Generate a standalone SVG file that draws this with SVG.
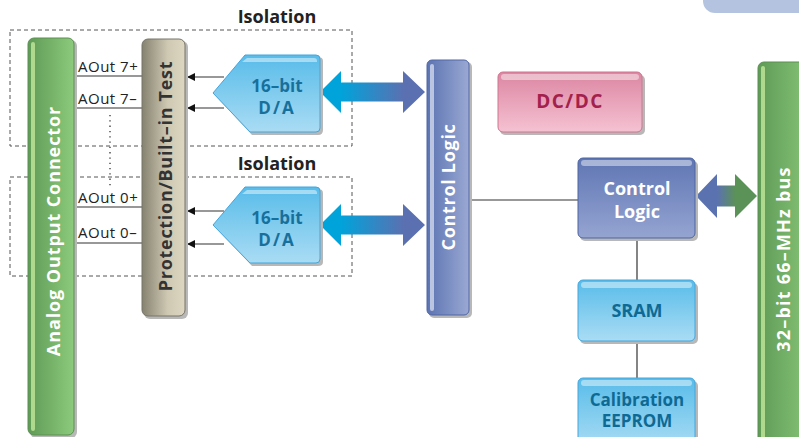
<svg xmlns="http://www.w3.org/2000/svg" width="799" height="437" viewBox="0 0 799 437">
<defs>
<linearGradient id="gGreen" x1="0" y1="0" x2="1" y2="0"><stop offset="0" stop-color="#5f9a56"/><stop offset="1" stop-color="#8ccb7c"/></linearGradient>
<linearGradient id="gGray" x1="0" y1="0" x2="1" y2="0"><stop offset="0" stop-color="#858270"/><stop offset="0.6" stop-color="#cfc9b3"/><stop offset="1" stop-color="#ddd7c2"/></linearGradient>
<linearGradient id="gBlueV" x1="0" y1="0" x2="1" y2="0"><stop offset="0" stop-color="#5c74b2"/><stop offset="1" stop-color="#9aa8d3"/></linearGradient>
<linearGradient id="gBlueBox" x1="0" y1="0" x2="0" y2="1"><stop offset="0" stop-color="#5f76b4"/><stop offset="1" stop-color="#95a4d1"/></linearGradient>
<linearGradient id="gCyan" x1="0" y1="0" x2="0" y2="1"><stop offset="0" stop-color="#58bce9"/><stop offset="1" stop-color="#aadcf4"/></linearGradient>
<linearGradient id="gPink" x1="0" y1="0" x2="0" y2="1"><stop offset="0" stop-color="#dc86a2"/><stop offset="1" stop-color="#f5c2d2"/></linearGradient>
<linearGradient id="gArrow1" x1="0" y1="0" x2="1" y2="0"><stop offset="0.2" stop-color="#00a3da"/><stop offset="0.8" stop-color="#5b70b1"/></linearGradient>
<linearGradient id="gArrow2" x1="0" y1="0" x2="1" y2="0"><stop offset="0.35" stop-color="#5b72b0"/><stop offset="0.65" stop-color="#5b9257"/></linearGradient>
<marker id="ah" viewBox="0 0 10 10" refX="10" refY="5" markerWidth="8" markerHeight="8" markerUnits="userSpaceOnUse" orient="auto"><path d="M0,0 L10,5 L0,10 Z" fill="#111"/></marker>
</defs>
<style>
.t{font-family:"Open Sans","Noto Sans","Liberation Sans",sans-serif;font-weight:bold}
.r{font-family:"Open Sans","Noto Sans","Liberation Sans",sans-serif;font-size:15px;letter-spacing:0.5px;fill:#222}
.dash{fill:none;stroke:#555;stroke-width:1;stroke-dasharray:4 3}
.ln{stroke:#333;stroke-width:1.2;fill:none}
.sh{fill:#b8b8b8}
.hl{fill:#ffffff;opacity:0.45}
</style>

<rect x="703" y="-20" width="130" height="33" rx="12" fill="#b4c4e0"/>

<g id="isolation1">
<rect class="dash" x="10" y="30" width="342" height="116"/>
<text class="t" x="277" y="23" font-size="18" fill="#222" text-anchor="middle">Isolation</text>
</g>
<g id="isolation2">
<rect class="dash" x="10" y="177" width="342" height="99"/>
<text class="t" x="277" y="170" font-size="18" fill="#222" text-anchor="middle">Isolation</text>
</g>

<g id="connectors">
<line class="ln" x1="74" y1="76" x2="142" y2="76"/>
<line class="ln" x1="74" y1="108" x2="142" y2="108"/>
<line class="ln" x1="74" y1="207" x2="142" y2="207"/>
<line class="ln" x1="74" y1="243" x2="142" y2="243"/>
<line x1="110" y1="115" x2="110" y2="186" stroke="#333" stroke-width="1.3" stroke-dasharray="1.3 4"/>
<line class="ln" x1="224" y1="77" x2="187" y2="77" marker-end="url(#ah)"/>
<line class="ln" x1="224" y1="108" x2="187" y2="108" marker-end="url(#ah)"/>
<line class="ln" x1="224" y1="211" x2="187" y2="211" marker-end="url(#ah)"/>
<line class="ln" x1="224" y1="244" x2="187" y2="244" marker-end="url(#ah)"/>
<line class="ln" x1="469" y1="200" x2="578" y2="200"/>
<line class="ln" x1="637" y1="238" x2="637" y2="280"/>
<line class="ln" x1="637" y1="341" x2="637" y2="378"/>
<path d="M320,92 L341,71 L341,82.5 L403,82.5 L403,71 L425,92 L403,113 L403,101.5 L341,101.5 L341,113 Z" fill="url(#gArrow1)"/>
<path d="M320,225 L341,204 L341,215.5 L403,215.5 L403,204 L425,225 L403,246 L403,234.5 L341,234.5 L341,246 Z" fill="url(#gArrow1)"/>
<path d="M696,196 L717,174 L717,185.5 L735,185.5 L735,174 L757,196 L735,218 L735,206.5 L717,206.5 L717,218 Z" fill="url(#gArrow2)"/>
<text class="r" x="78" y="72">AOut 7+</text>
<text class="r" x="78" y="104">AOut 7–</text>
<text class="r" x="78" y="203">AOut 0+</text>
<text class="r" x="78" y="238">AOut 0–</text>
</g>

<g id="analog-connector">
<rect class="sh" x="30" y="40" width="47" height="398" rx="6"/>
<rect x="28" y="38" width="46" height="397" rx="6" fill="url(#gGreen)" stroke="#5a9050" stroke-width="1"/>
<rect x="31" y="42" width="4" height="389" rx="2" fill="#c2e89a" opacity="0.8"/>
<text class="t" transform="translate(60,231) rotate(-90)" font-size="18" letter-spacing="0.9" fill="#fff" text-anchor="middle">Analog Output Connector</text>
</g>

<g id="protection">
<rect class="sh" x="144" y="41" width="44" height="278" rx="6"/>
<rect x="142" y="39" width="43" height="277" rx="6" fill="url(#gGray)" stroke="#77746a" stroke-width="1"/>
<text class="t" transform="translate(172,176) rotate(-90)" font-size="18" letter-spacing="0.7" fill="#333" text-anchor="middle">Protection/Built–in Test</text>
</g>

<g id="da1">
<path d="M247,57 L318,57 Q323,57 323,61 L323,130 Q323,135 318,135 L252,135 L215,95 Z" class="sh"/>
<path d="M245,55 L316,55 Q320,55 320,59 L320,128 Q320,132 316,132 L250,132 L213,93 Z" fill="url(#gCyan)" stroke="#45a6dc" stroke-width="1"/>
<path d="M247,58 L314,58 Q317,58 317,61 L317,62 L242,62 Z" class="hl"/>
<text class="t" x="277" y="92" font-size="17" fill="#17709c" text-anchor="middle">16–bit</text>
<text class="t" x="277" y="114" font-size="17" letter-spacing="2" fill="#17709c" text-anchor="middle">D/A</text>
</g>
<g id="da2">
<path d="M247,189 L318,189 Q323,189 323,193 L323,262 Q323,266 318,266 L252,266 L215,227 Z" class="sh"/>
<path d="M245,187 L316,187 Q320,187 320,191 L320,259 Q320,263 316,263 L250,263 L213,225 Z" fill="url(#gCyan)" stroke="#45a6dc" stroke-width="1"/>
<path d="M247,190 L314,190 Q317,190 317,193 L317,194 L242,194 Z" class="hl"/>
<text class="t" x="277" y="224" font-size="17" fill="#17709c" text-anchor="middle">16–bit</text>
<text class="t" x="277" y="246" font-size="17" letter-spacing="2" fill="#17709c" text-anchor="middle">D/A</text>
</g>

<g id="control-logic-bar">
<rect class="sh" x="429" y="62" width="43" height="256" rx="5"/>
<rect x="427" y="60" width="42" height="255" rx="5" fill="url(#gBlueV)" stroke="#5067a5" stroke-width="1"/>
<rect x="430" y="64" width="4" height="247" rx="2" fill="#dfe5f5" opacity="0.7"/>
<text class="t" transform="translate(455,187) rotate(-90)" font-size="18" letter-spacing="0.7" fill="#fff" text-anchor="middle">Control Logic</text>
</g>

<g id="dcdc">
<rect class="sh" x="500" y="75" width="145" height="60" rx="5"/>
<rect x="498" y="72" width="144" height="60" rx="5" fill="url(#gPink)" stroke="#d07490" stroke-width="1"/>
<rect x="501" y="74" width="138" height="6" rx="3" class="hl"/>
<text class="t" x="570" y="108" font-size="19" letter-spacing="1.5" fill="#a3214c" text-anchor="middle">DC/DC</text>
</g>

<g id="control-logic-box">
<rect class="sh" x="580" y="161" width="118" height="80" rx="5"/>
<rect x="578" y="158" width="117" height="80" rx="5" fill="url(#gBlueBox)" stroke="#4d64a2" stroke-width="1"/>
<rect x="581" y="160" width="111" height="6" rx="3" class="hl"/>
<text class="t" x="637" y="195" font-size="18" fill="#fff" text-anchor="middle">Control</text>
<text class="t" x="637" y="218" font-size="18" fill="#fff" text-anchor="middle">Logic</text>
</g>

<g id="sram">
<rect class="sh" x="580" y="283" width="118" height="61" rx="5"/>
<rect x="578" y="280" width="117" height="61" rx="5" fill="url(#gCyan)" stroke="#45a6dc" stroke-width="1"/>
<rect x="581" y="282" width="111" height="6" rx="3" class="hl"/>
<text class="t" x="637" y="317" font-size="18" fill="#0e6a94" text-anchor="middle">SRAM</text>
</g>

<g id="eeprom">
<rect class="sh" x="580" y="381" width="118" height="70" rx="5"/>
<rect x="578" y="378" width="117" height="70" rx="5" fill="url(#gCyan)" stroke="#45a6dc" stroke-width="1"/>
<rect x="581" y="380" width="111" height="6" rx="3" class="hl"/>
<text class="t" x="637" y="406" font-size="17" fill="#0e6a94" text-anchor="middle">Calibration</text>
<text class="t" x="637" y="427" font-size="17" fill="#0e6a94" text-anchor="middle">EEPROM</text>
</g>

<g id="pci-bus">
<rect x="758" y="62" width="60" height="390" rx="6" fill="url(#gGreen)" stroke="#5a9050" stroke-width="1"/>
<rect x="761" y="66" width="4" height="380" rx="2" fill="#c2e89a" opacity="0.8"/>
<text class="t" transform="translate(790,259) rotate(-90)" font-size="18" letter-spacing="1.2" fill="#fff" text-anchor="middle">32–bit 66–MHz bus</text>
</g>
</svg>
